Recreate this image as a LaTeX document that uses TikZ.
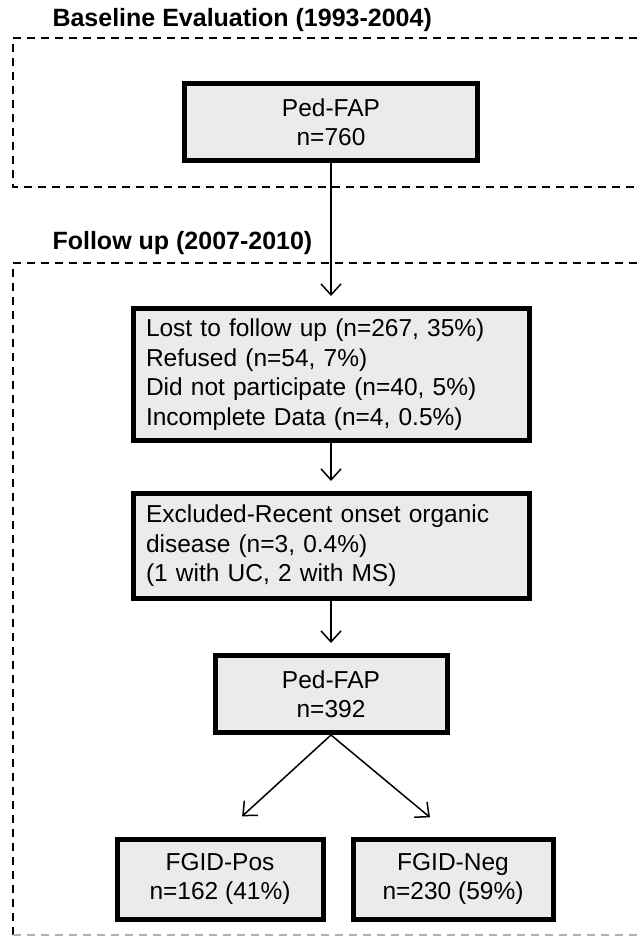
\documentclass[tikz,border=0pt]{standalone}
\usepackage{fontspec}
\setmainfont{Liberation Sans}
\usetikzlibrary{positioning,arrows.meta}

\begin{document}
\begin{tikzpicture}[
  x=1pt,y=-1pt,
  font=\fontsize{24.5}{29.5}\selectfont,
  box/.style={draw,line width=5pt,fill=black!8,align=center,inner sep=0pt},
  listbox/.style={box,align=left,text width=370pt,inner xsep=13pt,minimum width=396pt},
  frame/.style={dashed,line width=1.8pt,dash pattern=on 8pt off 6pt},
  stage/.style={font=\fontsize{25}{28}\selectfont\bfseries,anchor=west},
  >={Straight Barb[length=11pt,width=20pt,line width=1.5pt]},
  link/.style={->,line width=1.5pt,shorten >=10pt},
]
\useasboundingbox (0,0) rectangle (637,941);

% baseline stage
\node[stage] (base) at (49,20) {Baseline Evaluation (1993-2004)};
\draw[frame] (637,38) -- (13,38) -- (13,187) -- (637,187);
\node[box,minimum width=293pt,minimum height=77pt] (ped1) at (331,122) {Ped-FAP\\n=760};

% follow up stage
\node[stage] (follow) at (49,243) {Follow up (2007-2010)};
\draw[frame] (637,263) -- (13,263) -- (13,935);
\draw[frame,black!30] (13,935) -- (637,935);

\node[listbox,minimum height=132pt,below=143pt of ped1] (lost) {Lost to follow up (n=267, 35\%)\\Refused (n=54, 7\%)\\Did not participate (n=40, 5\%)\\Incomplete Data (n=4, 0.5\%)};
\node[listbox,minimum height=105pt,below=48pt of lost] (excl) {Excluded-Recent onset organic\\disease (n=3, 0.4\%)\\(1 with UC, 2 with MS)};
\node[box,minimum width=232pt,minimum height=77pt,below=52pt of excl] (ped2) {Ped-FAP\\n=392};

% outcome
\node[box,minimum width=206pt,minimum height=80pt] (pos) at (220,879) {FGID-Pos\\n=162 (41\%)};
\node[box,minimum width=200pt,minimum height=80pt,right=25pt of pos] (neg) {FGID-Neg\\n=230 (59\%)};

% edges
\draw[link] (ped1) -- (lost);
\draw[link] (lost) -- (excl);
\draw[link] (excl) -- (ped2);
\draw[link,shorten >=30pt] (ped2.south) -- (pos.north);
\draw[link,shorten >=30pt] (ped2.south) -- (neg.north);
\end{tikzpicture}
\end{document}
